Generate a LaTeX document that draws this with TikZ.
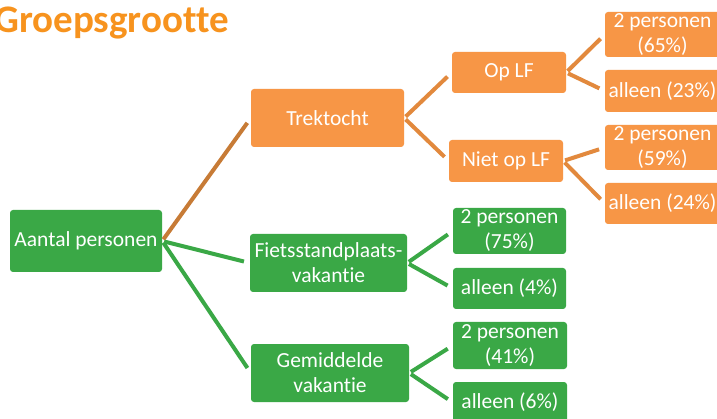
\documentclass[tikz,border=0pt]{standalone}
\usepackage{fontspec}
\setmainfont[Ligatures=NoCommon]{Carlito}
\definecolor{boxorange}{HTML}{F79646}
\definecolor{boxgreen}{HTML}{3AA846}
\definecolor{lineorange}{HTML}{E2893D}
\definecolor{linebrown}{HTML}{C77B36}
\definecolor{titleorange}{HTML}{F7931E}
\tikzset{
  box/.style={rounded corners=3pt, inner sep=0pt, text=white, align=center,
    font=\fontsize{21.5}{25}\selectfont},
  obox/.style={box, fill=boxorange},
  gbox/.style={box, fill=boxgreen},
  conn/.style={line width=4pt, shorten <=2pt, shorten >=6pt},
  oconn/.style={conn, draw=lineorange},
  gconn/.style={conn, draw=boxgreen},
  bconn/.style={conn, draw=linebrown},
}
\begin{document}
\begin{tikzpicture}[x=1pt,y=-1pt]
\clip (0,0) rectangle (717,419);
\fill[white] (0,0) rectangle (717,419);
\node[anchor=base west, inner sep=0pt, text=titleorange, font=\fontsize{39}{41}\selectfont\bfseries] (title) at (-6,33) {Groepsgrootte};

\node[gbox, minimum width=152pt, minimum height=62pt] (aantal) at (86,241) {Aantal personen};
\node[obox, minimum width=153pt, minimum height=58pt] (trek) at (327.5,118) {Trektocht};
\node[gbox, minimum width=157pt, minimum height=58pt] (fiets) at (328.5,263) {Fietsstandplaats-\\vakantie};
\node[gbox, minimum width=158pt, minimum height=58pt] (gemid) at (330,373) {Gemiddelde\\vakantie};

\node[obox, minimum width=114pt, minimum height=41pt] (oplf) at (509,72.5) {Op LF};
\node[obox, minimum width=114pt, minimum height=42pt] (nietlf) at (506,161) {Niet op LF};

\node[obox, minimum width=115pt, minimum height=45pt] (p65) at (662.5,34.5) {2 personen\\(65\%)};
\node[obox, minimum width=115pt, minimum height=42pt] (a23) at (662.5,91) {alleen (23\%)};
\node[obox, minimum width=115pt, minimum height=45pt] (p59) at (662.5,147.5) {2 personen\\(59\%)};
\node[obox, minimum width=115pt, minimum height=41pt] (a24) at (662.5,203.5) {alleen (24\%)};

\node[gbox, minimum width=113pt, minimum height=46pt] (p75) at (509.5,231) {2 personen\\(75\%)};
\node[gbox, minimum width=113pt, minimum height=41pt] (a4) at (509.5,288.5) {alleen (4\%)};
\node[gbox, minimum width=114pt, minimum height=47pt] (p41) at (510,345.5) {2 personen\\(41\%)};
\node[gbox, minimum width=114pt, minimum height=41pt] (a6) at (510,402.5) {alleen (6\%)};

\draw[bconn] (aantal.east) -- (trek.west);
\draw[gconn] (aantal.east) -- (fiets.west);
\draw[gconn] (aantal.east) -- (gemid.west);

\draw[oconn] (trek.east) -- (oplf.west);
\draw[oconn] (trek.east) -- (nietlf.west);
\draw[oconn] (oplf.east) -- (p65.west);
\draw[oconn] (oplf.east) -- (a23.west);
\draw[oconn] (nietlf.east) -- (p59.west);
\draw[oconn] (nietlf.east) -- (a24.west);

\draw[gconn] (fiets.east) -- (p75.west);
\draw[gconn] (fiets.east) -- (a4.west);
\draw[gconn] (gemid.east) -- (p41.west);
\draw[gconn] (gemid.east) -- (a6.west);
\end{tikzpicture}
\end{document}
